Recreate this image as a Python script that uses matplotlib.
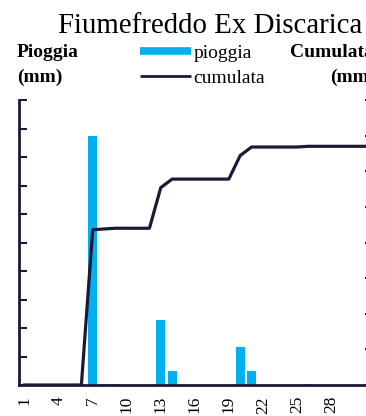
import matplotlib
matplotlib.use("Agg")
import matplotlib.pyplot as plt
from matplotlib.lines import Line2D

days = list(range(1, 32))
pioggia = [0, 0, 0, 0, 0, 0, 43.6, 0.2, 0.2, 0, 0, 0, 11.4, 2.4, 0, 0, 0, 0, 0,
           6.6, 2.4, 0, 0, 0, 0, 0.2, 0, 0, 0, 0, 0]
cumulata = [0, 0, 0, 0, 0, 0, 43.6, 43.8, 44.0, 44.0, 44.0, 44.0, 55.4, 57.8,
            57.8, 57.8, 57.8, 57.8, 57.8, 64.4, 66.8, 66.8, 66.8, 66.8, 66.8,
            67.0, 67.0, 67.0, 67.0, 67.0, 67.0]
xticks = [1, 4, 7, 10, 13, 16, 19, 22, 25, 28]
title = "Fiumefreddo Ex Discarica"

BLUE = "#00B0F0"
NAVY = "#1b1935"
W, H = 366, 416
SERIF = "Liberation Serif"

fig = plt.figure(figsize=(W / 100, H / 100), dpi=100)
ax = fig.add_axes([19 / W, 31 / H, 351.6 / W, 285 / H])
ax.bar(days, pioggia, width=0.8, color=BLUE, zorder=2)
ax.set_xlim(0.5, 31.5)
ax.set_ylim(0, 50)
ax.set_yticks(range(0, 51, 5))
ax.set_yticklabels([])
ax.tick_params(axis="y", direction="in", length=6, width=1.5, color=NAVY)
ax.set_xticks(xticks)
ax.set_xticklabels([str(t) for t in xticks], rotation=90, fontsize=12.5,
                   family=SERIF)
ax.tick_params(axis="x", length=0, pad=8)
ax.spines["top"].set_visible(False)
for s in ["left", "bottom", "right"]:
    ax.spines[s].set_color(NAVY)
    ax.spines[s].set_linewidth(2)

ax2 = ax.twinx()
ax2.plot(days, cumulata, color=NAVY, lw=2.3, zorder=3)
ax2.set_ylim(0, 80)
ax2.set_yticks(range(0, 81, 10))
ax2.set_yticklabels([])
ax2.tick_params(axis="y", direction="in", length=4, width=1.5, color=NAVY)
ax2.spines["top"].set_visible(False)
ax2.spines["right"].set_color(NAVY)
ax2.spines["right"].set_linewidth(2)
ax2.spines["left"].set_visible(False)
ax2.spines["bottom"].set_visible(False)

fig.text(210 / W, 1 - 33 / H, title, ha="center", va="baseline",
         fontsize=20.8, family=SERIF)
fig.text(17 / W, 1 - 57 / H, "Pioggia", ha="left", va="baseline",
         fontsize=14, fontweight="bold", family=SERIF)
fig.text(17 / W, 1 - 82 / H, "(mm)", ha="left", va="baseline",
         fontsize=14, fontweight="bold", family=SERIF)
fig.text(290 / W, 1 - 57 / H, "Cumulata", ha="left", va="baseline",
         fontsize=14, fontweight="bold", family=SERIF)
fig.text(330 / W, 1 - 82 / H, "(mm)", ha="left", va="baseline",
         fontsize=14, fontweight="bold", family=SERIF)

handles = [Line2D([], [], color=BLUE, lw=5.5, solid_capstyle="butt"),
           Line2D([], [], color=NAVY, lw=2, solid_capstyle="butt")]
fig.legend(handles, ["pioggia", "cumulata"], loc="upper left",
           bbox_to_anchor=(140 / W, 1 - 44 / H), frameon=False,
           borderpad=0, borderaxespad=0, handlelength=2.6,
           handletextpad=0.15, labelspacing=0.4,
           prop={"family": SERIF, "size": 14})

fig.savefig("out.png", dpi=100)
